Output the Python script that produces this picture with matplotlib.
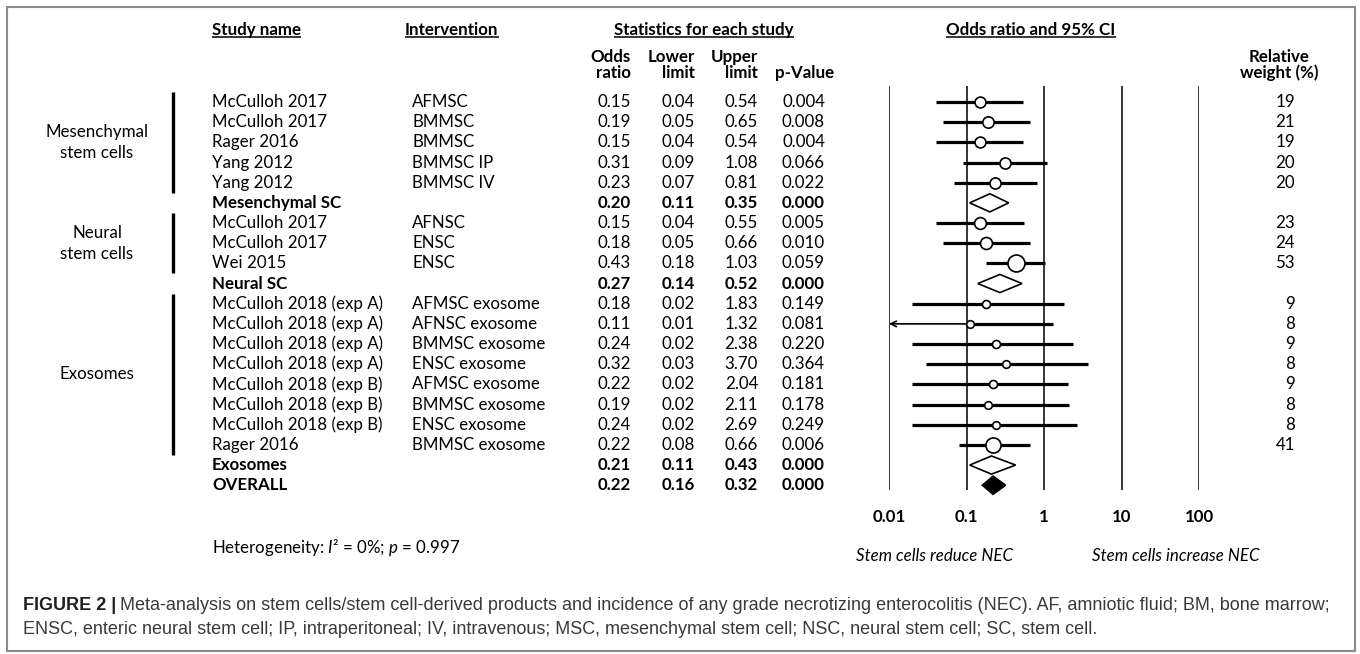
import numpy as np
import matplotlib
matplotlib.use('Agg')
import matplotlib.pyplot as plt
from matplotlib.patches import Polygon, Rectangle

plt.rcParams['font.family'] = ['Lato', 'DejaVu Sans']
plt.rcParams['mathtext.fontset'] = 'custom'
plt.rcParams['mathtext.rm'] = 'Lato'
plt.rcParams['mathtext.it'] = 'Lato:italic'
plt.rcParams['mathtext.bf'] = 'Lato:bold'

# ---- data ----
studies = ['McCulloh 2017', 'McCulloh 2017', 'Rager 2016', 'Yang 2012', 'Yang 2012',
           'Mesenchymal SC',
           'McCulloh 2017', 'McCulloh 2017', 'Wei 2015',
           'Neural SC',
           'McCulloh 2018 (exp A)', 'McCulloh 2018 (exp A)', 'McCulloh 2018 (exp A)',
           'McCulloh 2018 (exp A)', 'McCulloh 2018 (exp B)', 'McCulloh 2018 (exp B)',
           'McCulloh 2018 (exp B)', 'Rager 2016',
           'Exosomes', 'OVERALL']
interventions = ['AFMSC', 'BMMSC', 'BMMSC', 'BMMSC IP', 'BMMSC IV', '',
                 'AFNSC', 'ENSC', 'ENSC', '',
                 'AFMSC exosome', 'AFNSC exosome', 'BMMSC exosome', 'ENSC exosome',
                 'AFMSC exosome', 'BMMSC exosome', 'ENSC exosome', 'BMMSC exosome',
                 '', '']
kinds = ['study'] * 5 + ['sub'] + ['study'] * 3 + ['sub'] + ['study'] * 8 + ['sub', 'overall']
odds = [0.15, 0.19, 0.15, 0.31, 0.23, 0.20, 0.15, 0.18, 0.43, 0.27,
        0.18, 0.11, 0.24, 0.32, 0.22, 0.19, 0.24, 0.22, 0.21, 0.22]
lower = [0.04, 0.05, 0.04, 0.09, 0.07, 0.11, 0.04, 0.05, 0.18, 0.14,
         0.02, 0.01, 0.02, 0.03, 0.02, 0.02, 0.02, 0.08, 0.11, 0.16]
upper = [0.54, 0.65, 0.54, 1.08, 0.81, 0.35, 0.55, 0.66, 1.03, 0.52,
         1.83, 1.32, 2.38, 3.70, 2.04, 2.11, 2.69, 0.66, 0.43, 0.32]
pvals = ['0.004', '0.008', '0.004', '0.066', '0.022', '0.000', '0.005', '0.010', '0.059', '0.000',
         '0.149', '0.081', '0.220', '0.364', '0.181', '0.178', '0.249', '0.006', '0.000', '0.000']
weights = [19, 21, 19, 20, 20, None, 23, 24, 53, None,
           9, 8, 9, 8, 9, 8, 8, 41, None, None]
groups = ['Mesenchymal\nstem cells', 'Neural\nstem cells', 'Exosomes']
group_rows = [(0, 4), (6, 8), (10, 17)]
axis_ticks = [0.01, 0.1, 1, 10, 100]
axis_labels = ['0.01', '0.1', '1', '10', '100']

# ---- layout (pixels of a 1360x654 canvas) ----
W, H = 1360, 654
ROW0, DY = 102, 20.17
ytop, ybot = -ROW0 / DY, (H - ROW0) / DY

fig = plt.figure(figsize=(W / 100, H / 100), dpi=100)
ax = fig.add_axes([0, 0, 1, 1])
ax.set_xlim(0, W)
ax.set_ylim(ybot, ytop)
ax.axis('off')

# forest panel on a log scale: 0.01 at x=889, 100 at x=1199
fx0, fx1 = 889, 1199
axf = fig.add_axes([fx0 / W, 0, (fx1 - fx0) / W, 1])
axf.set_xscale('log')
axf.set_xlim(0.01, 100)
axf.set_ylim(ybot, ytop)
axf.axis('off')

FS = 12.2
n = len(studies)


def underline(t):
    fig.canvas.draw()
    bb = t.get_window_extent()
    inv = ax.transData.inverted()
    (x0, y0), (x1, _) = inv.transform([(bb.x0, bb.y0), (bb.x1, bb.y0)])
    ax.plot([x0, x1], [y0 - 0.05, y0 - 0.05], color='black', lw=1.1, solid_capstyle='butt')


# column headers
hdr_y = -3.57
for txt, x, ha in [('Study name', 212, 'left'), ('Intervention', 405, 'left'),
                   ('Statistics for each study', 704, 'center'),
                   ('Odds ratio and 95% CI', 1031, 'center')]:
    t = ax.text(x, hdr_y, txt, ha=ha, va='center', fontsize=FS, fontweight='bold')
    underline(t)

for x, lines in [(631, ('Odds', 'ratio')), (695, ('Lower', 'limit')),
                 (758, ('Upper', 'limit'))]:
    ax.text(x, -2.23, lines[0], ha='right', va='center', fontsize=FS, fontweight='bold')
    ax.text(x, -1.44, lines[1], ha='right', va='center', fontsize=FS, fontweight='bold')
ax.text(834, -1.44, 'p-Value', ha='right', va='center', fontsize=FS, fontweight='bold')
ax.text(1279, -2.23, 'Relative', ha='center', va='center', fontsize=FS, fontweight='bold')
ax.text(1279, -1.44, 'weight (%)', ha='center', va='center', fontsize=FS, fontweight='bold')

# group labels and bars
for g, (r0, r1) in zip(groups, group_rows):
    ax.text(97, (r0 + r1) / 2, g, ha='center', va='center', fontsize=FS, linespacing=1.4)
    ax.plot([173, 173], [r0 - 0.5, r1 + 0.5], color='black', lw=2.4, solid_capstyle='butt')

# table rows
for i in range(n):
    fw = 'normal' if kinds[i] == 'study' else 'bold'
    ax.text(212, i, studies[i], ha='left', va='center', fontsize=FS, fontweight=fw)
    ax.text(412, i, interventions[i], ha='left', va='center', fontsize=FS)
    ax.text(631, i, '%.2f' % odds[i], ha='right', va='center', fontsize=FS, fontweight=fw)
    ax.text(695, i, '%.2f' % lower[i], ha='right', va='center', fontsize=FS, fontweight=fw)
    ax.text(758, i, '%.2f' % upper[i], ha='right', va='center', fontsize=FS, fontweight=fw)
    ax.text(825, i, pvals[i], ha='right', va='center', fontsize=FS, fontweight=fw)
    if weights[i] is not None:
        ax.text(1295, i, str(weights[i]), ha='right', va='center', fontsize=FS)

# forest panel
axf.vlines(axis_ticks, -0.8, n - 0.75, color='black', lw=1.1)
for v, lab in zip(axis_ticks, axis_labels):
    axf.text(v, 20.57, lab, ha='center', va='center', fontsize=FS, fontweight='bold')

for i in range(n):
    if kinds[i] == 'study':
        lo = lower[i]
        if lo <= 0.01:
            # CI runs past the left edge: thin line with an arrow head
            axf.annotate('', xy=(0.01, i), xytext=(odds[i], i),
                         arrowprops=dict(arrowstyle='->', color='black', lw=1.2,
                                         shrinkA=0, shrinkB=0), zorder=2)
            axf.plot([odds[i], upper[i]], [i, i], color='black', lw=2.3,
                     solid_capstyle='butt', zorder=2)
        else:
            axf.plot([lo, upper[i]], [i, i], color='black', lw=2.3,
                     solid_capstyle='butt', zorder=2)
        d = 1.7 + 2.1 * np.sqrt(weights[i])
        axf.plot(odds[i], i, 'o', ms=d * 0.72, mfc='white', mec='black', mew=1.2, zorder=3)
    else:
        h = 0.45
        pts = [(lower[i], i), (odds[i], i - h), (upper[i], i), (odds[i], i + h)]
        fc = 'black' if kinds[i] == 'overall' else 'white'
        axf.add_patch(Polygon(pts, closed=True, fc=fc, ec='black', lw=1.2, zorder=3))

ax.text(934, 22.5, 'Stem cells reduce NEC', ha='center', va='center', fontsize=FS, style='italic')
ax.text(1176, 22.5, 'Stem cells increase NEC', ha='center', va='center', fontsize=FS, style='italic')
ax.text(212, 22.1, 'Heterogeneity: $I$² = 0%; $p$ = 0.997', ha='left', va='center', fontsize=FS)

# caption
cap_y1 = (606 - ROW0) / DY
cap_y2 = (630 - ROW0) / DY
cap_font = ['Liberation Sans', 'DejaVu Sans']
CFS = 13.0
t1 = ax.text(23, cap_y1, 'FIGURE 2 |', ha='left', va='center', fontsize=CFS,
             fontweight='bold', family=cap_font, color='#231f20')
fig.canvas.draw()
bb = t1.get_window_extent()
xend = ax.transData.inverted().transform((bb.x1, bb.y0))[0]
ax.text(xend + 4, cap_y1,
        'Meta-analysis on stem cells/stem cell-derived products and incidence of any grade '
        'necrotizing enterocolitis (NEC). AF, amniotic fluid; BM, bone marrow;',
        ha='left', va='center', fontsize=CFS, family=cap_font, color='#3a3a3a')
ax.text(23, cap_y2,
        'ENSC, enteric neural stem cell; IP, intraperitoneal; IV, intravenous; MSC, mesenchymal '
        'stem cell; NSC, neural stem cell; SC, stem cell.',
        ha='left', va='center', fontsize=CFS, family=cap_font, color='#3a3a3a')

# outer frame
ax.add_patch(Rectangle((7, (651 - ROW0) / DY), 1348, (7 - 651) / DY, fill=False,
                       ec='#8a8a8a', lw=1.5))

fig.savefig('out.png', dpi=100)
